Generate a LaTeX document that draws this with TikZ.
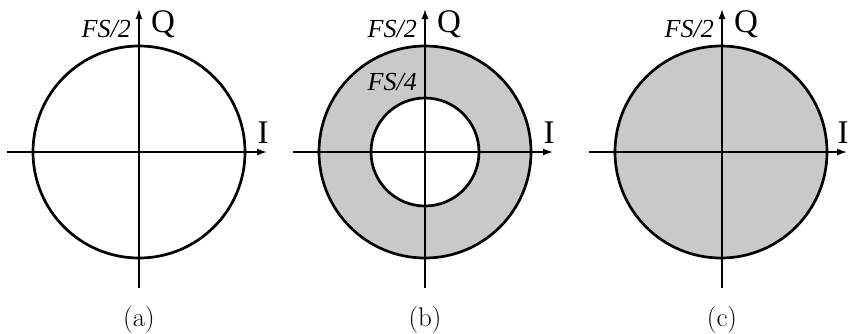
\documentclass[tikz,border=0pt]{standalone}
\usepackage{fontspec}
\newfontfamily\tnr{Liberation Serif}
\usetikzlibrary{arrows.meta}
\tikzset{
  axis/.style={line width=1.4pt,-{Latex[length=10pt,width=7pt]}},
  ring/.style={draw,circle,line width=2.7pt,inner sep=0pt},
  shade/.style={fill=black!21},
  biglab/.style={font=\tnr\fontsize{33}{36}\selectfont,inner sep=0pt},
  fslab/.style={font=\tnr\itshape\fontsize{26}{29}\selectfont,inner sep=0pt},
  caplab/.style={font=\fontsize{27}{30}\selectfont,inner sep=0pt}
}
\begin{document}
\begin{tikzpicture}[x=1pt,y=-1pt]
\useasboundingbox (0,0) rectangle (850,333);
% ---------- panel (a)
\coordinate (ca) at (139,152);
\node[ring,minimum size=212pt] (oa) at (ca) {};
\coordinate (la) at (7,152);
\coordinate (ra) at (267,152);
\coordinate (ba) at (139,288);
\coordinate (ta) at (139,9);
\draw[axis] (la) -- (ra);
\draw[axis] (ba) -- (ta);
\node[biglab,anchor=base west] (qa) at (151,32) {Q};
\node[fslab,anchor=base east] (fa) at (131,37) {FS/2};
\node[biglab,anchor=base] (ia) at (263,143) {I};
\node[caplab,anchor=base] (capa) at (139,326) {(a)};
% ---------- panel (b)
\coordinate (cb) at (425,152);
\node[ring,shade,minimum size=212pt] (ob) at (cb) {};
\node[ring,fill=white,minimum size=108pt] (ib) at (cb) {};
\coordinate (lb) at (293,152);
\coordinate (rb) at (553,152);
\coordinate (bb) at (425,288);
\coordinate (tb) at (425,9);
\draw[axis] (lb) -- (rb);
\draw[axis] (bb) -- (tb);
\node[biglab,anchor=base west] (qb) at (437,32) {Q};
\node[fslab,anchor=base east] (fb) at (417,37) {FS/2};
\node[fslab,anchor=base east] (f4) at (417,90) {FS/4};
\node[biglab,anchor=base] (iboxlab) at (549,143) {I};
\node[caplab,anchor=base] (capb) at (425,326) {(b)};
% ---------- panel (c)
\coordinate (cc) at (721,152);
\node[ring,shade,minimum size=212pt] (oc) at (cc) {};
\coordinate (lc) at (589,152);
\coordinate (rc) at (847,152);
\coordinate (bc) at (722,288);
\coordinate (tc) at (722,9);
\draw[axis] (lc) -- (rc);
\draw[axis] (bc) -- (tc);
\node[biglab,anchor=base west] (qc) at (734,32) {Q};
\node[fslab,anchor=base east] (fc) at (714,37) {FS/2};
\node[biglab,anchor=base] (ic) at (843,143) {I};
\node[caplab,anchor=base] (capc) at (722,326) {(c)};
\end{tikzpicture}
\end{document}
